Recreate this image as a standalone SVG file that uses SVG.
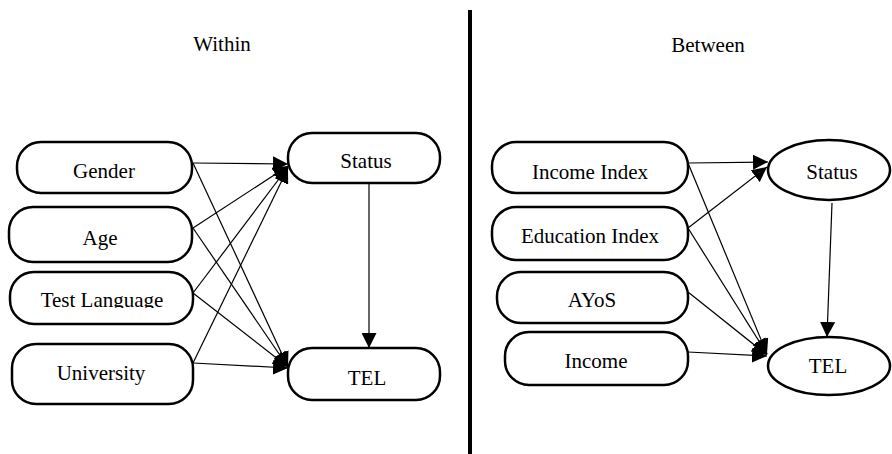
<svg xmlns="http://www.w3.org/2000/svg" width="892" height="454" viewBox="0 0 892 454" font-family="'Liberation Serif', 'Times New Roman', Times, serif">
<style>
.box{fill:#fff;stroke:#000;stroke-width:2.5}
.t{font-family:'Liberation Serif','Times New Roman',Times,serif;font-size:21px;fill:#000;text-anchor:middle}
.c{stroke:#000;stroke-width:1.2;fill:none;marker-end:url(#ah)}
</style>
<defs>
<marker id="ah" markerUnits="userSpaceOnUse" markerWidth="16" markerHeight="15" refX="15" refY="7.5" orient="auto">
<path d="M0,0 L15,7.5 L0,15 z" fill="#000"/>
</marker>
<clipPath id="clipTL"><rect x="0" y="270" width="200" height="38"/></clipPath>
</defs>
<rect x="468" y="10" width="4" height="444" fill="#000"/>
<text class="t" x="222" y="51">Within</text>
<text class="t" x="708" y="52">Between</text>
<g id="connectors">
<line class="c" x1="193" y1="163" x2="288" y2="164"/>
<line class="c" x1="193" y1="228" x2="288" y2="166"/>
<line class="c" x1="193" y1="293" x2="288" y2="167"/>
<line class="c" x1="193" y1="363" x2="288" y2="168"/>
<line class="c" x1="193" y1="163" x2="288" y2="367"/>
<line class="c" x1="193" y1="228" x2="288" y2="367"/>
<line class="c" x1="193" y1="293" x2="288" y2="367"/>
<line class="c" x1="193" y1="363" x2="288" y2="368"/>
<line class="c" x1="369" y1="183" x2="369" y2="348"/>
<line class="c" x1="688" y1="163" x2="768" y2="162"/>
<line class="c" x1="688" y1="228" x2="767" y2="167"/>
<line class="c" x1="688" y1="163" x2="767" y2="354"/>
<line class="c" x1="688" y1="228" x2="767" y2="354"/>
<line class="c" x1="688" y1="292" x2="767" y2="355"/>
<line class="c" x1="688" y1="352" x2="767" y2="356"/>
<line class="c" x1="832" y1="203" x2="827" y2="337"/>
</g>
<g id="gender"><rect class="box" x="17" y="142" width="175" height="51" rx="24"/><text class="t" x="104" y="178">Gender</text></g>
<g id="age"><rect class="box" x="9" y="207" width="183" height="55" rx="24"/><text class="t" x="100" y="245">Age</text></g>
<g id="testlanguage"><rect class="box" x="10" y="272" width="183" height="52" rx="24"/><text class="t" x="102" y="307" clip-path="url(#clipTL)">Test Language</text></g>
<g id="university"><rect class="box" x="12" y="344" width="181" height="60" rx="24"/><text class="t" x="101" y="380">University</text></g>
<g id="status-within"><rect class="box" x="288" y="133" width="152" height="50" rx="24"/><text class="t" x="366" y="168">Status</text></g>
<g id="tel-within"><rect class="box" x="288" y="348" width="152" height="52" rx="24"/><text class="t" x="367" y="385">TEL</text></g>
<g id="incomeindex"><rect class="box" x="492" y="142" width="196" height="51" rx="24"/><text class="t" x="590" y="179">Income Index</text></g>
<g id="educationindex"><rect class="box" x="492" y="207" width="196" height="53" rx="24"/><text class="t" x="590" y="243">Education Index</text></g>
<g id="ayos"><rect class="box" x="497" y="272" width="191" height="51" rx="24"/><text class="t" x="592" y="307">AYoS</text></g>
<g id="income"><rect class="box" x="505" y="332" width="183" height="53" rx="24"/><text class="t" x="596" y="368">Income</text></g>
<g id="status-between"><ellipse class="box" cx="829" cy="170" rx="61" ry="30"/><text class="t" x="832" y="179">Status</text></g>
<g id="tel-between"><ellipse class="box" cx="829" cy="366" rx="61" ry="29"/><text class="t" x="828" y="373">TEL</text></g>
</svg>
